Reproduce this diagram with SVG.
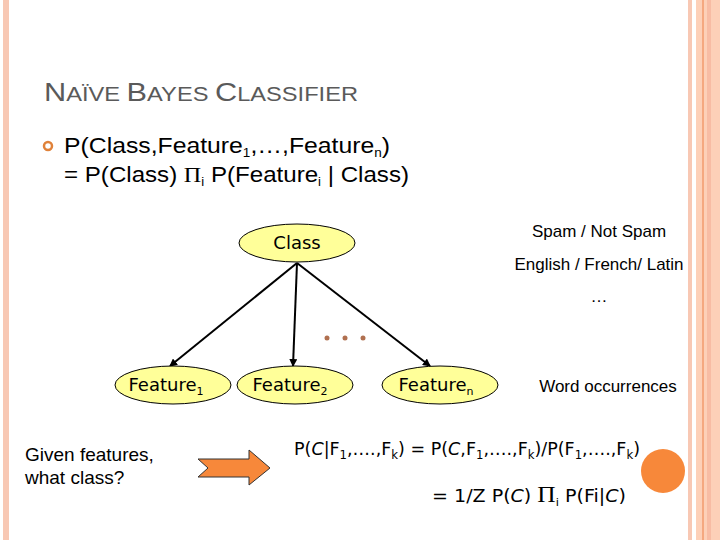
<svg xmlns="http://www.w3.org/2000/svg" width="720" height="540" viewBox="0 0 720 540">
<style>
.t{font-family:"Liberation Sans",Arial,sans-serif;fill:#000}
.c{font-family:"DejaVu Sans",sans-serif;fill:#000}
.n ellipse{fill:#ffff99;stroke:#000;stroke-width:1}
.e{stroke:#000;stroke-width:2;fill:none;marker-end:url(#ah)}
</style>
<defs><marker id="ah" markerWidth="8" markerHeight="8" refX="7" refY="4" orient="auto" markerUnits="userSpaceOnUse"><path d="M0,0L8,4L0,8z" fill="#000"/></marker></defs>
<rect width="720" height="540" fill="#fff"/>
<rect x="3" y="0" width="6" height="540" fill="#f8c8b4"/>
<rect x="688" y="0" width="4" height="540" fill="#f8c8b4"/>
<rect x="696" y="0" width="24" height="540" fill="#fdd0b8"/>
<rect x="702" y="0" width="2" height="540" fill="#f5a880"/>
<rect x="707" y="0" width="4" height="540" fill="#f8bca4"/>
<text x="44" y="101" class="t" font-size="26" style="fill:#5a5a5a" textLength="314" lengthAdjust="spacingAndGlyphs">N<tspan font-size="20">AÏVE </tspan>B<tspan font-size="20">AYES </tspan>C<tspan font-size="20">LASSIFIER</tspan></text>
<circle cx="48" cy="146" r="4" fill="none" stroke="#e0823a" stroke-width="2.5"/>
<text x="64" y="153" class="t" font-size="22" textLength="326" lengthAdjust="spacingAndGlyphs">P(Class,Feature<tspan font-size="12" dy="4">1</tspan><tspan dy="-4">,…,Feature</tspan><tspan font-size="12" dy="4">n</tspan><tspan dy="-4">)</tspan></text>
<text x="64" y="182" class="t" font-size="22" textLength="345" lengthAdjust="spacingAndGlyphs">= P(Class) <tspan font-family="Liberation Serif">Π</tspan><tspan font-size="12" dy="4">i</tspan><tspan dy="-4"> P(Feature</tspan><tspan font-size="12" dy="4">i</tspan><tspan dy="-4"> | Class)</tspan></text>
<g id="edges">
<line class="e" x1="297" y1="263" x2="170" y2="366"/>
<line class="e" x1="297" y1="263" x2="293" y2="366"/>
<line class="e" x1="297" y1="263" x2="430" y2="366"/>
</g>
<g fill="#b07050"><circle cx="327" cy="338" r="2.5"/><circle cx="345" cy="338" r="2.5"/><circle cx="363" cy="338" r="2.5"/></g>
<g id="class" class="n"><ellipse cx="297" cy="243" rx="58" ry="19"/><text x="297" y="249" class="c" font-size="18" text-anchor="middle">Class</text></g>
<g id="f1" class="n"><ellipse cx="173" cy="385" rx="58" ry="19"/><text x="166" y="391" class="c" font-size="18" text-anchor="middle">Feature<tspan font-size="11" dy="4">1</tspan></text></g>
<g id="f2" class="n"><ellipse cx="295" cy="385" rx="58" ry="19"/><text x="290" y="391" class="c" font-size="18" text-anchor="middle">Feature<tspan font-size="11" dy="4">2</tspan></text></g>
<g id="fn" class="n"><ellipse cx="440" cy="385" rx="58" ry="19"/><text x="436" y="391" class="c" font-size="18" text-anchor="middle">Feature<tspan font-size="11" dy="4">n</tspan></text></g>
<text x="599" y="237" class="t" font-size="17" text-anchor="middle">Spam / Not Spam</text>
<text x="599" y="270" class="t" font-size="17" text-anchor="middle">English / French/ Latin</text>
<text x="599" y="302" class="t" font-size="17" text-anchor="middle">…</text>
<text x="608" y="392" class="t" font-size="17" text-anchor="middle">Word occurrences</text>
<text x="25" y="461" class="t" font-size="19">Given features,</text>
<text x="25" y="484" class="t" font-size="19">what class?</text>
<path d="M198,459H249V450L270,468L249,485V477H198L208,468Z" fill="#f7883a" stroke="#333" stroke-width="1"/>
<text x="294" y="455" class="c" font-size="18" textLength="346" lengthAdjust="spacingAndGlyphs">P(<tspan font-style="italic">C</tspan>|F<tspan font-size="12" dy="4">1</tspan><tspan dy="-4">,….,F</tspan><tspan font-size="12" dy="4">k</tspan><tspan dy="-4">) = P(</tspan><tspan font-style="italic">C</tspan>,F<tspan font-size="12" dy="4">1</tspan><tspan dy="-4">,….,F</tspan><tspan font-size="12" dy="4">k</tspan><tspan dy="-4">)/P(F</tspan><tspan font-size="12" dy="4">1</tspan><tspan dy="-4">,….,F</tspan><tspan font-size="12" dy="4">k</tspan><tspan dy="-4">)</tspan></text>
<text x="432" y="502" class="c" font-size="18" textLength="194" lengthAdjust="spacingAndGlyphs">= 1/Z P(<tspan font-style="italic">C</tspan>) <tspan font-family="Liberation Serif" font-size="24">Π</tspan><tspan font-size="11" dy="4">i</tspan><tspan dy="-4"> P(Fi|</tspan><tspan font-style="italic">C</tspan>)</text>
<circle cx="663" cy="471" r="22" fill="#f7883a"/>
</svg>
